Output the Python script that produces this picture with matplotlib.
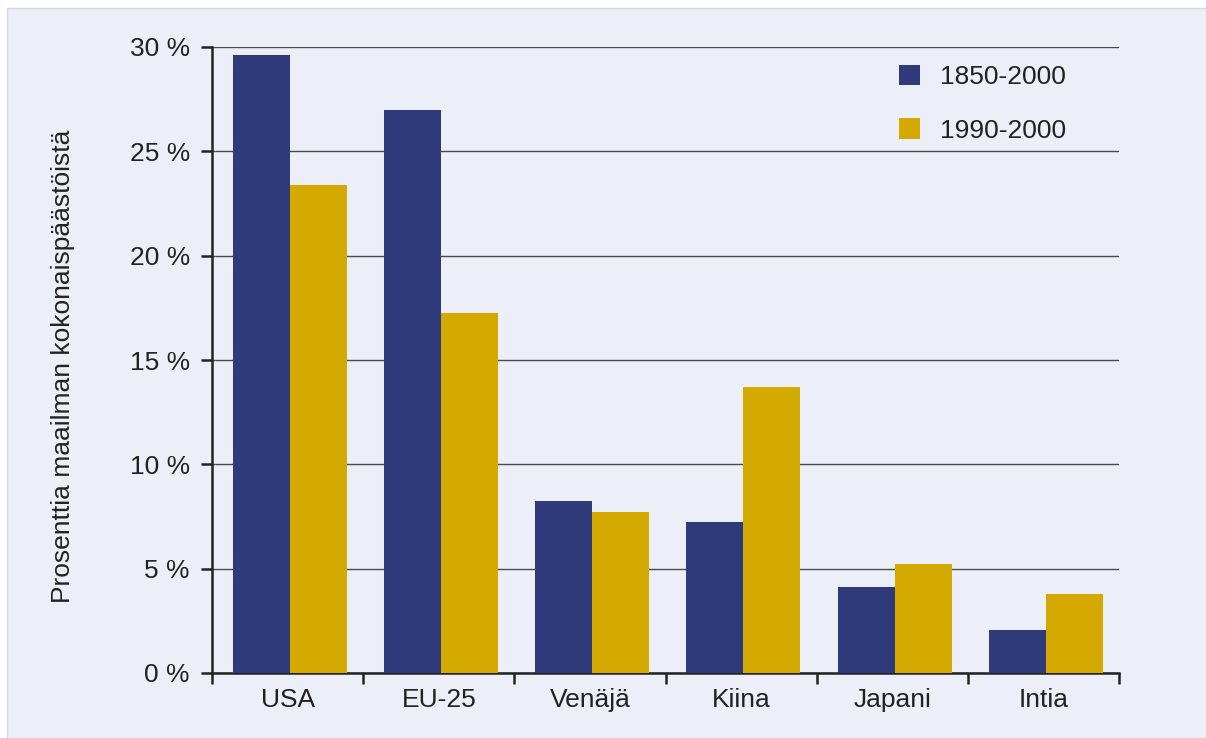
import numpy as np
import matplotlib; matplotlib.use('Agg')
import matplotlib.pyplot as plt
from matplotlib.patches import Rectangle, Patch
from matplotlib.ticker import FuncFormatter

plt.rcParams['font.family'] = ['Liberation Sans', 'DejaVu Sans']

categories = ['USA', 'EU-25', 'Venäjä', 'Kiina', 'Japani', 'Intia']
series_names = ['1850-2000', '1990-2000']
share_1850 = [29.6, 27.0, 8.25, 7.25, 4.1, 2.05]
share_1990 = [23.4, 17.25, 7.7, 13.7, 5.2, 3.8]

BLUE = '#2E3A7A'
GOLD = '#D5AA00'
PANEL = '#ECEFF7'
FS = 19

fig = plt.figure(figsize=(12.06, 7.38), dpi=100, facecolor='white')
fig.patches.append(Rectangle((7/1206, 0), 1, 1 - 8/738, transform=fig.transFigure,
                             facecolor=PANEL, edgecolor='#d4d7de', linewidth=1, zorder=-1))
ax = fig.add_axes([212/1206, 1 - 673/738, (1119-212)/1206, (673-47)/738])
ax.set_facecolor('none')

x = np.arange(len(categories)) + 0.5
w = 0.377
ax.bar(x - w/2 + 0.015, share_1850, w, color=BLUE, zorder=3, label=series_names[0])
ax.bar(x + w/2 + 0.015, share_1990, w, color=GOLD, zorder=3, label=series_names[1])

ax.set_xlim(0, len(categories))
ax.set_ylim(0, 30)
ax.set_yticks(np.arange(0, 31, 5))
ax.yaxis.set_major_formatter(FuncFormatter(lambda v, p: f'{int(v)} %'))
ax.yaxis.grid(True, color='#4a4a4a', linewidth=1.0, zorder=1)
ax.set_axisbelow(True)

ax.set_xticks(np.arange(0, len(categories) + 1))
ax.set_xticklabels([])
ax.set_xticks(x, minor=True)
ax.set_xticklabels(categories, minor=True, fontsize=FS, color='#222222')
ax.tick_params(axis='x', which='minor', length=0, pad=11)
ax.tick_params(axis='x', which='major', length=8, width=1.8, color='#222222', direction='out')
ax.tick_params(axis='y', length=8, width=1.8, color='#222222', labelsize=FS,
               labelcolor='#222222', pad=8)

for s in ['top', 'right']:
    ax.spines[s].set_visible(False)
for s in ['left', 'bottom']:
    ax.spines[s].set_linewidth(1.8)
    ax.spines[s].set_color('#222222')

ax.set_ylabel('Prosenttia maailman kokonaispäästöistä', fontsize=FS, color='#222222')
ax.yaxis.set_label_coords(-(212-75)/907, 0.49)

handles = [Patch(facecolor=BLUE, label=series_names[0]),
           Patch(facecolor=GOLD, label=series_names[1])]
ax.legend(handles=handles, loc='upper left', bbox_to_anchor=((899-212)/907, 0.972),
          frameon=False, fontsize=FS, handlelength=0.8, handleheight=0.8,
          handletextpad=0.75, labelspacing=1.12, borderpad=0, borderaxespad=0,
          labelcolor='#222222')

plt.savefig('out.png', dpi=100, facecolor=fig.get_facecolor())
plt.close()
